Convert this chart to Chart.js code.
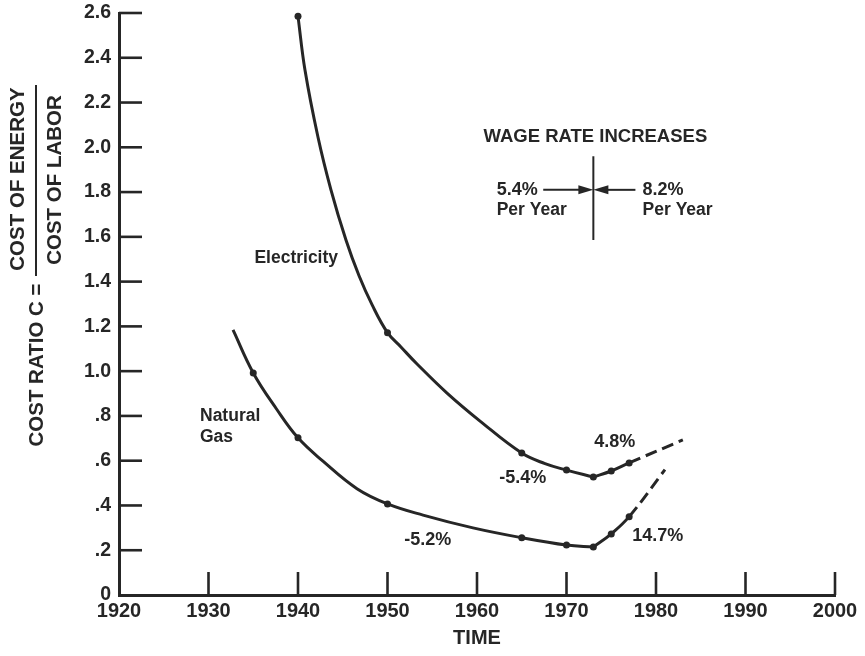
<!DOCTYPE html>
<html>
<head>
<meta charset="utf-8">
<title>Cost ratio of energy to labor</title>
<script src="https://cdn.jsdelivr.net/npm/chart.js@4.4.1/dist/chart.umd.min.js"></script>
<style>
  html, body { margin: 0; padding: 0; background: #ffffff; }
  canvas { display: block; }
</style>
</head>
<body>
<canvas id="chart" width="865" height="656"></canvas>
<script>
// ---- data ----
const xTickLabels = ['1920', '1930', '1940', '1950', '1960', '1970', '1980', '1990', '2000'];
const yTickLabels = ['0', '.2', '.4', '.6', '.8', '1.0', '1.2', '1.4', '1.6', '1.8', '2.0', '2.2', '2.4', '2.6'];

// Electricity: falling branch of the fitted curve, then the rising branch (dashed beyond 1977)
const elecFallYears  = [1940, 1940.78, 1942.23, 1943.69, 1945.36, 1946.82, 1948.27, 1950, 1951.5, 1953.3, 1956.65, 1960.34, 1965, 1967.6, 1970, 1973];
const elecFallValues = [2.585, 2.345, 2.046, 1.809, 1.586, 1.426, 1.297, 1.172, 1.108, 1.032, 0.902, 0.777, 0.634, 0.587, 0.558, 0.527];
const elecRiseYears  = [1973, 1975, 1977, 1983];
const elecRiseValues = [0.527, 0.554, 0.59, 0.693];
// Electricity: observed points
const elecPointYears  = [1940, 1950, 1965, 1970, 1973, 1975, 1977];
const elecPointValues = [2.585, 1.172, 0.634, 0.558, 0.527, 0.554, 0.59];

// Natural gas: falling branch, then rising branch (dashed beyond 1977)
const gasFallYears  = [1932.74, 1935, 1937.6, 1940, 1942.79, 1946.59, 1950, 1953.97, 1959.55, 1965, 1970, 1973];
const gasFallValues = [1.184, 0.992, 0.831, 0.702, 0.598, 0.475, 0.407, 0.357, 0.300, 0.256, 0.223, 0.214];
const gasRiseYears  = [1973, 1975, 1977, 1981];
const gasRiseValues = [0.214, 0.273, 0.35, 0.56];
// Natural gas: observed points
const gasPointYears  = [1935, 1940, 1950, 1965, 1970, 1973, 1975, 1977];
const gasPointValues = [0.992, 0.702, 0.407, 0.256, 0.223, 0.214, 0.273, 0.35];

// Annual rates of change written along the curves
const rateLabels = ['-5.4%', '4.8%', '-5.2%', '14.7%'];
// Wage rate increases before / after the break year
const wageRates = ['5.4%', '8.2%'];
const wageBreakYear = 1973;
const dashFromYear = 1977;

// ---- layout of the annotations (data coordinates) ----
const rateLabelSpots = [[1965.1, 0.521], [1975.4, 0.684], [1954.5, 0.244], [1980.2, 0.264]];
const seriesNameSpots = {
  electricity: [1939.8, 1.506],
  naturalGas: [1929.05, 0.80, 0.706]
};
const wageLayout = { titleY: 2.046, lineTop: 1.96, lineBottom: 1.586, arrowY: 1.81,
                     leftTextX: 1962.2, rightTextX: 1978.5, leftArrowFrom: 1967.4, rightArrowFrom: 1977.7,
                     rateY: 1.81, perYearY: 1.72 };

// ---- styling ----
const ink = '#262626';
const family = "'Liberation Sans', Arial, Helvetica, sans-serif";

const pairs = (xs, ys) => xs.map((v, i) => ({ x: v, y: ys[i] }));

const curveStyle = {
  type: 'line',
  borderColor: ink,
  borderWidth: 3,
  pointRadius: 0,
  pointHoverRadius: 0,
  fill: false,
  cubicInterpolationMode: 'default',
  tension: 0.4,
  clip: false,
  order: 2
};
const risingSegment = {
  borderDash: ctx => (ctx.p0.parsed.x >= dashFromYear ? [12, 6] : undefined)
};
const markerStyle = {
  type: 'scatter',
  showLine: false,
  pointRadius: 3.5,
  pointHoverRadius: 3.5,
  pointBackgroundColor: ink,
  pointBorderWidth: 0,
  clip: false,
  order: 1
};

const fnt = (size, weight) => `${weight || 'bold'} ${size}px ${family}`;

// Inward tick marks, the fraction-style y title and the text notes
const decorations = {
  id: 'decorations',
  afterDraw(chart) {
    const { ctx, chartArea: a, scales: { x, y } } = chart;
    const X = v => x.getPixelForValue(v);
    const Y = v => y.getPixelForValue(v);
    const seg = (x1, y1, x2, y2) => { ctx.beginPath(); ctx.moveTo(x1, y1); ctx.lineTo(x2, y2); ctx.stroke(); };

    ctx.save();
    ctx.strokeStyle = ink;
    ctx.fillStyle = ink;
    ctx.lineWidth = 2.6;

    // tick marks pointing into the plot
    y.ticks.forEach(t => { if (t.value > 0.001) seg(a.left, Y(t.value), a.left + 23, Y(t.value)); });
    x.ticks.forEach(t => { if (t.value > 1920.5) seg(X(t.value), a.bottom, X(t.value), a.bottom - 23); });

    // y title: COST RATIO C = (COST OF ENERGY / COST OF LABOR)
    ctx.textAlign = 'center';
    ctx.textBaseline = 'middle';
    ctx.font = fnt(20.5);
    const vtext = (txt, cx, cy) => {
      ctx.save(); ctx.translate(cx, cy); ctx.rotate(-Math.PI / 2); ctx.fillText(txt, 0, 0); ctx.restore();
    };
    vtext('COST RATIO C =', 37, 365);
    vtext('COST OF ENERGY', 18, 179);
    vtext('COST OF LABOR', 55, 180);
    ctx.lineWidth = 2;
    seg(36, 85, 36, 276);

    // series names
    ctx.font = fnt(17.5);
    ctx.fillText('Electricity', X(seriesNameSpots.electricity[0]), Y(seriesNameSpots.electricity[1]));
    ctx.textAlign = 'left';
    ctx.fillText('Natural', X(seriesNameSpots.naturalGas[0]), Y(seriesNameSpots.naturalGas[1]));
    ctx.fillText('Gas', X(seriesNameSpots.naturalGas[0]), Y(seriesNameSpots.naturalGas[2]));

    // rates along the curves
    ctx.textAlign = 'center';
    ctx.font = fnt(18);
    rateLabels.forEach((txt, i) => ctx.fillText(txt, X(rateLabelSpots[i][0]), Y(rateLabelSpots[i][1])));

    // wage rate note with converging arrows
    const w = wageLayout;
    const bx = X(wageBreakYear);
    ctx.font = fnt(18.5);
    ctx.fillText('WAGE RATE INCREASES', bx + 2, Y(w.titleY));
    ctx.lineWidth = 2;
    seg(bx, Y(w.lineTop), bx, Y(w.lineBottom));
    const ay = Y(w.arrowY);
    const head = 15, half = 4.5;
    seg(X(w.leftArrowFrom), ay, bx - head + 1, ay);
    seg(X(w.rightArrowFrom), ay, bx + head - 1, ay);
    ctx.beginPath(); ctx.moveTo(bx, ay); ctx.lineTo(bx - head, ay - half); ctx.lineTo(bx - head, ay + half); ctx.closePath(); ctx.fill();
    ctx.beginPath(); ctx.moveTo(bx, ay); ctx.lineTo(bx + head, ay - half); ctx.lineTo(bx + head, ay + half); ctx.closePath(); ctx.fill();
    ctx.textAlign = 'left';
    ctx.font = fnt(18);
    ctx.fillText(wageRates[0], X(w.leftTextX), Y(w.rateY));
    ctx.fillText(wageRates[1], X(w.rightTextX), Y(w.rateY));
    ctx.font = fnt(17.5);
    ctx.fillText('Per Year', X(w.leftTextX), Y(w.perYearY));
    ctx.fillText('Per Year', X(w.rightTextX), Y(w.perYearY));

    ctx.restore();
  }
};

new Chart(document.getElementById('chart'), {
  data: {
    datasets: [
      Object.assign({ label: 'Electricity', data: pairs(elecFallYears, elecFallValues) }, curveStyle),
      Object.assign({ label: 'Electricity (rising)', data: pairs(elecRiseYears, elecRiseValues), segment: risingSegment }, curveStyle),
      Object.assign({ label: 'Natural Gas', data: pairs(gasFallYears, gasFallValues) }, curveStyle),
      Object.assign({ label: 'Natural Gas (rising)', data: pairs(gasRiseYears, gasRiseValues), segment: risingSegment }, curveStyle),
      Object.assign({ label: 'Electricity points', data: pairs(elecPointYears, elecPointValues) }, markerStyle),
      Object.assign({ label: 'Natural Gas points', data: pairs(gasPointYears, gasPointValues) }, markerStyle)
    ]
  },
  options: {
    responsive: false,
    devicePixelRatio: 1,
    animation: false,
    events: [],
    layout: { padding: { left: 0, top: 13, right: 30, bottom: 0 } },
    plugins: { legend: { display: false }, tooltip: { enabled: false } },
    scales: {
      x: {
        type: 'linear',
        min: 1920,
        max: 2000,
        afterFit: s => { s.height = 61; s.paddingLeft = 0; s.paddingRight = 0; },
        ticks: {
          stepSize: 10,
          padding: 4,
          maxRotation: 0,
          autoSkip: false,
          color: ink,
          font: { family: family, size: 20, weight: 'bold' },
          callback: (v, i) => xTickLabels[i]
        },
        grid: { display: true, drawOnChartArea: false, drawTicks: false },
        border: { display: true, color: ink, width: 3 },
        title: {
          display: true,
          text: 'TIME',
          color: ink,
          font: { family: family, size: 20, weight: 'bold' },
          padding: { top: 0, bottom: 6 }
        }
      },
      y: {
        type: 'linear',
        min: 0,
        max: 2.6,
        afterFit: s => { s.width = 119; s.paddingTop = 0; s.paddingBottom = 0; },
        ticks: {
          stepSize: 0.2,
          padding: 8,
          autoSkip: false,
          color: ink,
          font: { family: family, size: 19.5, weight: 'bold' },
          callback: (v, i) => yTickLabels[i]
        },
        grid: { display: true, drawOnChartArea: false, drawTicks: false },
        border: { display: true, color: ink, width: 3 }
      }
    }
  },
  plugins: [decorations]
});
</script>
</body>
</html>
